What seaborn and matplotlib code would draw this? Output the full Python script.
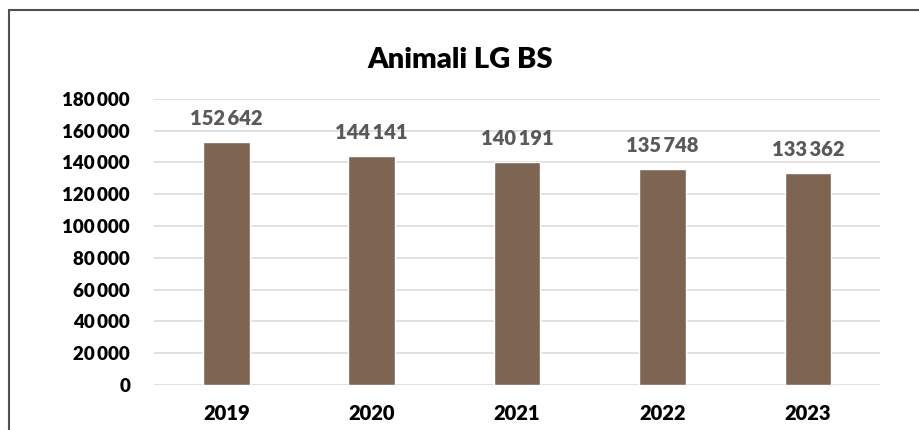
import matplotlib
matplotlib.use("Agg")
import matplotlib.pyplot as plt
import matplotlib.patches as mpatches
import seaborn as sns
import pandas as pd

sns.set_style("white")
plt.rcParams['font.family'] = ['Lato', 'DejaVu Sans']

years = ["2019", "2020", "2021", "2022", "2023"]
animals = [152642, 144141, 140191, 135748, 133362]
yticks = [0, 20000, 40000, 60000, 80000, 100000, 120000, 140000, 160000, 180000]

df = pd.DataFrame({"Anno": years, "Animali": animals})


def fmt(v):
    return f"{v:,}".replace(",", "\u2009")


fig = plt.figure(figsize=(9.2, 4.3), dpi=100)
ax = fig.add_axes([0.167, 0.105, 0.790, 0.665])

sns.barplot(data=df, x="Anno", y="Animali", color="#7E6551", saturation=1,
            width=0.32, ax=ax, zorder=3)

ax.set_ylim(0, 180000)
ax.set_xlim(-0.5, 4.5)
ax.set_yticks(yticks)
ax.set_yticklabels([fmt(t) for t in yticks], fontsize=13.5, fontweight='heavy')
for lab in ax.get_xticklabels():
    lab.set_fontsize(14.5)
    lab.set_fontweight('heavy')
ax.tick_params(axis='both', length=0, colors='black')
ax.tick_params(axis='y', pad=17)
ax.tick_params(axis='x', pad=14)
ax.grid(axis='y', color='#D9D9D9', linewidth=1.1, zorder=0)
for s in ax.spines.values():
    s.set_visible(False)
ax.set_xlabel("")
ax.set_ylabel("")

for i, v in enumerate(animals):
    ax.annotate(fmt(v), (i, v), xytext=(0, 10), textcoords='offset points',
                ha='center', va='bottom', fontsize=14.5, fontweight='heavy',
                color='#595959')

fig.text(0.5, 0.86, "Animali LG BS", ha='center', va='center',
         fontsize=21, fontweight='heavy', color='black')

# outer chart border, only left and top visible in the crop
border = mpatches.Rectangle((9 / 920, -0.1), 1.2, 1.1 - 10 / 430,
                            transform=fig.transFigure, fill=False,
                            edgecolor='#505050', linewidth=1.5)
fig.patches.append(border)

fig.savefig("out.png", dpi=100)
